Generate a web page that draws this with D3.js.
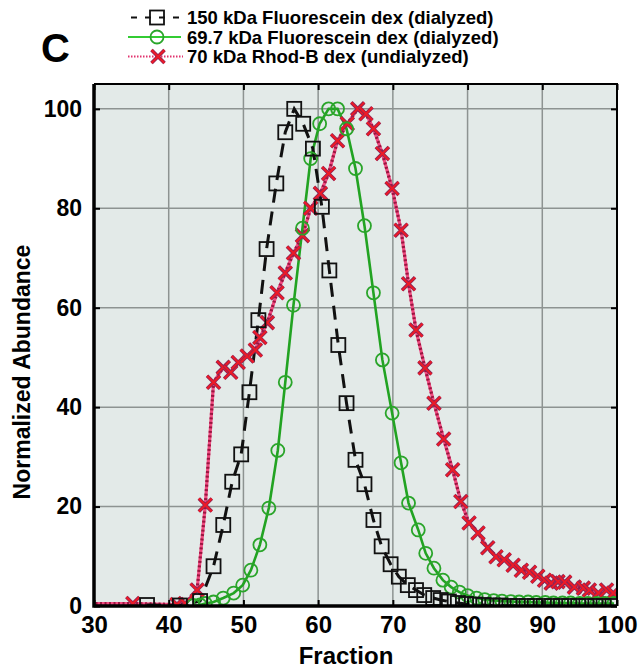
<!DOCTYPE html>
<html>
<head>
<meta charset="utf-8">
<script src="https://cdn.jsdelivr.net/npm/d3@7"></script>
<style>
body { margin: 0; background: #fff; }
text { font-family: "Liberation Sans", Arial, sans-serif; font-weight: bold; }
</style>
</head>
<body>
<div id="chart"></div>
<script>
var xTicks = [30, 40, 50, 60, 70, 80, 90, 100];
var yTicks = [0, 20, 40, 60, 80, 100];

// 150 kDa Fluorescein dex (dialyzed)
var frac150 = [37.1, 41.5, 44.2, 46.0, 47.3, 48.5, 49.7, 50.8, 52.0, 53.1, 54.4, 55.6, 56.8, 58.0, 59.3,
    60.5, 61.5, 62.7, 63.8, 65.0, 66.2, 67.4, 68.5, 69.7, 70.8, 72.0, 73.1, 74.2, 75.4, 76.4, 77.5,
    78.7, 79.8, 81.0, 82.1, 83.3, 84.4, 85.6, 86.7, 87.9, 89.0, 90.2, 91.3, 92.5, 93.6, 94.8, 95.9,
    97.1, 98.2, 99.4];
var val150 = [0.2, 0.1, 1.0, 8.0, 16.3, 25.0, 30.5, 43.0, 57.5, 71.8, 85.0, 95.3, 100, 97.0, 92.0,
    80.3, 67.5, 52.5, 40.8, 29.4, 24.5, 17.3, 12.0, 8.4, 5.9, 4.2, 3.2, 2.2, 1.6, 1.2, 0.9,
    0.6, 0.4, 0.3, 0.2, 0.1, 0.1, 0, 0, 0, 0, 0, 0, 0, 0, 0, 0,
    0, 0, 0];

// 69.7 kDa Fluorescein dex (dialyzed)
var frac697 = [43.3, 44.2, 44.9, 46.0, 47.3, 48.7, 49.9, 51.0, 52.2, 53.4, 54.6, 55.6, 56.7, 57.9, 59.0,
    60.2, 61.4, 62.6, 63.8, 65.0, 66.2, 67.4, 68.6, 69.9, 71.1, 72.1, 73.4, 74.4, 75.5, 76.7, 77.8,
    78.9, 80.0, 81.2, 82.3, 83.5, 84.6, 85.8, 86.9, 88.1, 89.2, 90.4, 91.5, 92.7, 93.8, 95.0, 96.1,
    97.3, 98.4, 99.6];
var val697 = [0.1, 0.2, 0.5, 0.8, 1.6, 2.6, 4.2, 7.2, 12.3, 19.7, 31.3, 45.0, 60.5, 76.0, 90.0,
    97.0, 100, 100, 96.0, 88.0, 76.5, 63.0, 49.5, 38.8, 28.8, 20.7, 15.3, 10.6, 7.6, 5.2, 3.8,
    2.8, 2.1, 1.6, 1.3, 1.1, 1.0, 0.9, 0.8, 0.8, 0.7, 0.7, 0.6, 0.6, 0.6, 0.5, 0.5,
    0.5, 0.5, 0.5];

// 70 kDa Rhod-B dex (undialyzed)
var frac70 = [29.0, 35.2, 41.1, 42.2, 43.8, 44.9, 46.0, 47.3, 48.3, 49.3, 50.5, 51.6, 52.2, 53.2, 54.5,
    55.6, 56.7, 57.9, 59.0, 60.3, 61.4, 62.6, 63.9, 65.3, 66.4, 67.4, 68.6, 69.9, 71.1, 72.1, 73.1,
    74.3, 75.5, 76.8, 78.0, 79.1, 80.2, 81.4, 82.7, 83.8, 84.9, 86.1, 87.2, 88.3, 89.4, 90.3, 91.2,
    92.1, 93.0, 94.3, 95.5, 96.3, 97.5, 98.6, 99.5];
var val70 = [0.5, 0.5, 0.3, 0.5, 3.2, 20.3, 45.0, 48.0, 47.0, 49.0, 50.3, 51.5, 54.0, 57.0, 63.0,
    67.0, 71.0, 74.5, 80.0, 83.0, 87.0, 93.6, 97.0, 100, 99.0, 96.0, 91.0, 84.0, 75.6, 64.8, 55.5,
    47.9, 40.8, 33.6, 27.4, 21.0, 16.7, 14.7, 11.7, 9.9, 9.3, 8.2, 7.2, 6.8, 6.0, 5.2, 4.6,
    4.9, 4.8, 3.8, 3.6, 3.2, 2.6, 3.2, 2.6];

var legendLabels = ["150 kDa Fluorescein dex (dialyzed)",
    "69.7 kDa Fluorescein dex (dialyzed)",
    "70 kDa Rhod-B dex (undialyzed)"];

var margin = {top: 84, right: 23, bottom: 63, left: 94};
var width = 640 - margin.left - margin.right;
var height = 669 - margin.top - margin.bottom;

var svg = d3.select("#chart").append("svg")
    .attr("width", 640)
    .attr("height", 669);

var g = svg.append("g")
    .attr("transform", "translate(" + margin.left + "," + margin.top + ")");

var x = d3.scaleLinear().domain([30, 100]).range([0, width]);
var y = d3.scaleLinear().domain([0, 105]).range([height, 0]);

function pairs(xs, ys) {
    return xs.map(function(v, i) { return {x: v, y: ys[i]}; });
}
var s150 = pairs(frac150, val150);
var s697 = pairs(frac697, val697);
var s70 = pairs(frac70, val70);

// background and grid
g.append("rect")
    .attr("width", width)
    .attr("height", height)
    .attr("fill", "#e3eae8");

g.selectAll(".vgrid")
    .data(xTicks.slice(1, -1))
    .enter().append("line")
    .attr("x1", function(d) { return x(d); })
    .attr("x2", function(d) { return x(d); })
    .attr("y1", 0)
    .attr("y2", height)
    .attr("stroke", "#8d9391")
    .attr("stroke-width", 1.5);

g.selectAll(".hgrid")
    .data(yTicks.slice(1))
    .enter().append("line")
    .attr("x1", 0)
    .attr("x2", width)
    .attr("y1", function(d) { return y(d); })
    .attr("y2", function(d) { return y(d); })
    .attr("stroke", "#8d9391")
    .attr("stroke-width", 1.5);

svg.append("defs").append("clipPath")
    .attr("id", "plotclip")
    .append("rect")
    .attr("width", width)
    .attr("height", height);

var plot = g.append("g").attr("clip-path", "url(#plotclip)");

var line = d3.line()
    .x(function(d) { return x(d.x); })
    .y(function(d) { return y(d.y); });

// red dotted line
plot.append("path")
    .attr("d", line(s70))
    .attr("fill", "none")
    .attr("stroke", "#f04a80")
    .attr("stroke-width", 3.2);
plot.append("path")
    .attr("d", line(s70))
    .attr("fill", "none")
    .attr("stroke", "#9a1640")
    .attr("stroke-width", 3.2)
    .attr("stroke-dasharray", "2,2.5");

// green line
plot.append("path")
    .attr("d", line(s697))
    .attr("fill", "none")
    .attr("stroke", "#22a322")
    .attr("stroke-width", 2.6);

// black dashed line
plot.append("path")
    .attr("d", line(s150))
    .attr("fill", "none")
    .attr("stroke", "#111")
    .attr("stroke-width", 3)
    .attr("stroke-dasharray", "14,9");

function drawSquare(sel) {
    sel.append("rect")
        .attr("x", -7).attr("y", -7)
        .attr("width", 14).attr("height", 14)
        .attr("fill", "none")
        .attr("stroke", "#111")
        .attr("stroke-width", 1.8);
}
function drawCircle(sel) {
    sel.append("circle")
        .attr("r", 6.5)
        .attr("fill", "none")
        .attr("stroke", "#2aa52a")
        .attr("stroke-width", 1.8);
}
function drawCross(sel) {
    sel.append("path")
        .attr("d", "M-6.5,-6.5L6.5,6.5M6.5,-6.5L-6.5,6.5")
        .attr("stroke", "#8e2456")
        .attr("stroke-width", 3.6);
    sel.append("path")
        .attr("d", "M-6.5,-6.5L6.5,6.5M6.5,-6.5L-6.5,6.5")
        .attr("stroke", "#ee1a26")
        .attr("stroke-width", 2);
}

plot.selectAll(".m70")
    .data(s70)
    .enter().append("g")
    .attr("transform", function(d) { return "translate(" + x(d.x) + "," + y(d.y) + ")"; })
    .call(drawCross);

plot.selectAll(".m697")
    .data(s697)
    .enter().append("g")
    .attr("transform", function(d) { return "translate(" + x(d.x) + "," + y(d.y) + ")"; })
    .call(drawCircle);

plot.selectAll(".m150")
    .data(s150)
    .enter().append("g")
    .attr("transform", function(d) { return "translate(" + x(d.x) + "," + y(d.y) + ")"; })
    .call(drawSquare);

// axes
var xAxis = g.append("g")
    .attr("transform", "translate(0," + height + ")")
    .call(d3.axisBottom(x).tickValues(xTicks).tickSize(-6).tickPadding(10));
var yAxis = g.append("g")
    .call(d3.axisLeft(y).tickValues(yTicks).tickSize(-6).tickPadding(12));
var topAxis = g.append("g")
    .call(d3.axisTop(x).tickValues(xTicks).tickSize(-6).tickFormat(""));
var rightAxis = g.append("g")
    .attr("transform", "translate(" + width + ",0)")
    .call(d3.axisRight(y).tickValues(yTicks).tickSize(-6).tickFormat(""));

[xAxis, yAxis, topAxis, rightAxis].forEach(function(a) {
    a.select(".domain").remove();
    a.selectAll(".tick line").attr("stroke", "#000").attr("stroke-width", 2);
    a.selectAll("text")
        .attr("fill", "#000")
        .style("font-size", "24px")
        .style("font-family", "'Liberation Sans', Arial, sans-serif")
        .style("font-weight", "bold");
});
yAxis.selectAll("text").style("font-size", "23px");

// frame
g.append("path")
    .attr("d", "M0,0H" + width + "V" + height)
    .attr("fill", "none")
    .attr("stroke", "#000")
    .attr("stroke-width", 2);
g.append("path")
    .attr("d", "M0,0V" + height + "H" + width)
    .attr("fill", "none")
    .attr("stroke", "#000")
    .attr("stroke-width", 3.5);

// axis titles
svg.append("text")
    .attr("x", 346)
    .attr("y", 664)
    .attr("text-anchor", "middle")
    .style("font-size", "24px")
    .text("Fraction");

svg.append("text")
    .attr("transform", "translate(22,372) rotate(-90)")
    .attr("dy", "0.35em")
    .attr("text-anchor", "middle")
    .style("font-size", "23px")
    .text("Normalized Abundance");

// panel letter
svg.append("text")
    .attr("x", 41)
    .attr("y", 62)
    .style("font-size", "40px")
    .text("C");

// legend
var legY = [17.5, 37, 56.5];
var leg = svg.selectAll(".leg")
    .data(legendLabels)
    .enter().append("g")
    .attr("transform", function(d, i) { return "translate(0," + legY[i] + ")"; });

leg.append("text")
    .attr("x", 187)
    .attr("dy", "0.36em")
    .style("font-size", "18.5px")
    .text(function(d) { return d; });

var l0 = d3.select(leg.nodes()[0]);
l0.append("line").attr("x1", 131).attr("x2", 182)
    .attr("stroke", "#111").attr("stroke-width", 2.2).attr("stroke-dasharray", "6,8");
l0.append("g").attr("transform", "translate(157,0)").call(drawSquare);

var l1 = d3.select(leg.nodes()[1]);
l1.append("line").attr("x1", 128).attr("x2", 181)
    .attr("stroke", "#33cc33").attr("stroke-width", 2);
l1.append("g").attr("transform", "translate(157,0)").call(drawCircle);

var l2 = d3.select(leg.nodes()[2]);
l2.append("line").attr("x1", 128).attr("x2", 183)
    .attr("stroke", "#e2336e").attr("stroke-width", 1.8).attr("stroke-dasharray", "1.5,1.5");
l2.append("g").attr("transform", "translate(158,0)").call(drawCross);
</script>
</body>
</html>
